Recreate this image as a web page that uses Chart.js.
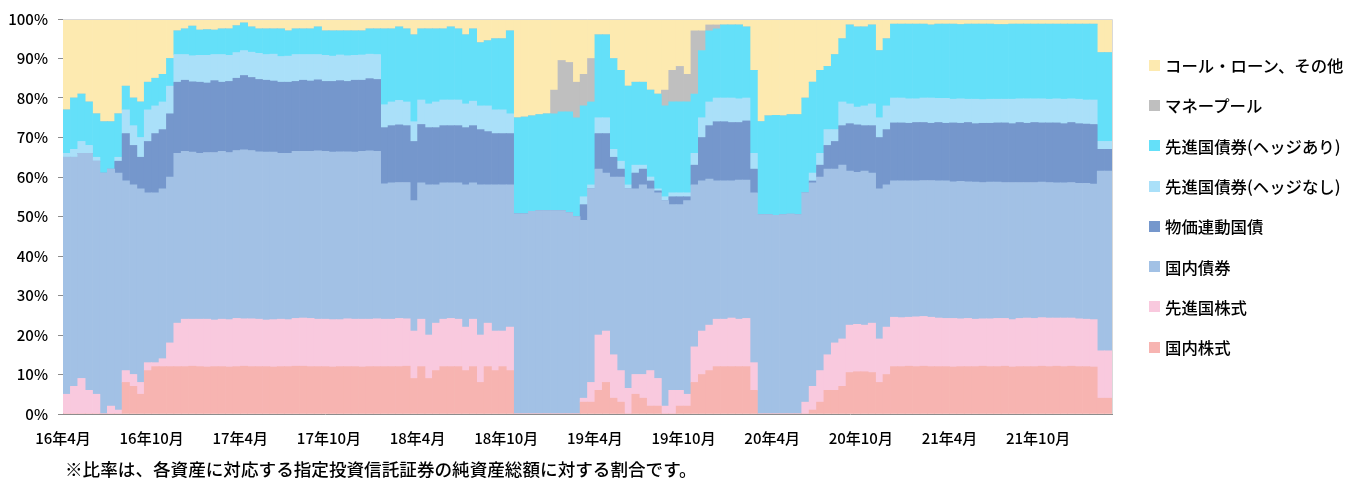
<!DOCTYPE html>
<html lang="ja">
<head>
<meta charset="utf-8">
<title>資産構成比率の推移</title>
<script src="https://cdn.jsdelivr.net/npm/chart.js@4/dist/chart.umd.min.js"></script>
<style>
  html, body { margin: 0; padding: 0; background: #fff; }
  #wrap { position: relative; width: 1365px; height: 481px; overflow: hidden; font-family: "Noto Sans CJK JP", "Noto Sans", sans-serif; }
  #my-chart { position: absolute; left: 0; top: 0; }
  #legend { position: absolute; left: 1149px; top: 45px; margin: 0; padding: 0; list-style: none; }
  #legend li { display: flex; align-items: center; height: 40.3px; font-size: 16.4px; font-weight: 500; color: #000; white-space: nowrap; }
  #legend span.box { display: inline-block; width: 11px; height: 11px; margin-right: 5px; }
  #note { position: absolute; left: 65px; top: 458px; font-size: 17.6px; font-weight: 500; line-height: 22px; color: #000; white-space: nowrap; }
</style>
</head>
<body>
<div id="wrap">
  <canvas id="my-chart" width="1365" height="481"></canvas>
  <ul id="legend"></ul>
  <div id="note">※比率は、各資産に対応する指定投資信託証券の純資産総額に対する割合です。</div>
</div>
<script>
'use strict';

// ******* GLOBALS *********
// half-month steps from 16年4月 to 22年2月
let tickLabels = ['16年4月', '16年10月', '17年4月', '17年10月', '18年4月', '18年10月',
  '19年4月', '19年10月', '20年4月', '20年10月', '21年4月', '21年10月'];

let categories = [];
for (let i = 0; i < 142; i++) {
  let m = 3 + Math.floor(i / 2);
  let yy = 16 + Math.floor(m / 12);
  categories.push(yy + '年' + (m % 12 + 1) + '月' + (i % 2 === 0 ? '前半' : '後半'));
}

let domesticStock = [
  0, 0, 0, 0, 0, 0, 0, 0, 8, 7, 5, 11, 12, 12, 12, 12,
  12, 12.1, 12, 11.9, 12, 12, 11.9, 12, 12.1, 12, 12, 12, 11.9, 12, 12, 12.1, 12.1, 12, 12, 12, 11.9, 12, 12, 12, 11.9, 12, 12,
  12, 12, 12, 12.1, 9, 12, 9, 11, 12, 12, 12, 11, 12, 8, 12, 11, 12, 11,
  0, 0, 0, 0, 0, 0, 0, 0, 0,
  3, 3, 6, 8, 4, 3, 0, 5, 4, 2, 2, 0, 0, 2, 2, 8, 10, 11, 12, 12, 12, 12, 12, 6,
  0, 0, 0, 0, 0, 0,
  0, 1, 3, 6, 6, 7, 10.5, 10.7, 10.7, 10.5, 8, 10, 12, 12, 12.1, 12,
  12.1, 12, 12, 12, 11.9, 12, 12, 12, 12.1, 12, 12, 12.1, 11.9, 12, 12, 12, 12.1, 12, 12.1, 12, 12.1, 12, 12, 11.9,
  4, 4
];

let foreignStock = [
  5, 7, 9, 6, 5, 0, 2, 1, 3, 3, 3, 2, 1, 2, 6, 11,
  12, 11.9, 12, 12.1, 11.8, 12, 12, 12.2, 12, 12.1, 12, 11.8, 12, 12, 11.9, 12.1, 12.2, 12.2, 12, 12, 12, 11.9, 12.1, 12, 12.1, 12, 12.1,
  12, 12, 12.2, 12, 12, 12, 11, 12, 12, 12.2, 12, 11, 12, 12, 11, 10, 9, 11,
  0, 0, 0, 0, 0, 0, 0, 0, 0,
  1, 5, 14, 13, 11, 8, 6.5, 5, 6, 9, 7, 2, 6, 4, 3, 9, 11, 11.5, 12, 12, 12.3, 12, 12.2, 7,
  0, 0, 0, 0, 0, 0,
  3, 6, 8, 9, 12, 12, 12, 12, 11.8, 12.5, 11, 12, 12.5, 12.4, 12.4, 12.6,
  12.6, 12.5, 12.3, 12.2, 12.3, 12.1, 12.2, 12, 12, 12.1, 12.2, 12.1, 12, 12.2, 12.3, 12.2, 12.3, 12.3, 12.2, 12.3, 12.2, 12.1, 12, 12,
  12, 12
];

let domesticBond = [
  60, 58, 57, 60, 59, 61, 60, 60, 48, 48, 49, 43, 43, 43, 42, 43,
  42.5, 42.3, 42, 42.2, 42.4, 42.5, 42.3, 42.5, 42.8, 42.6, 42.4, 42.5, 42.4, 42, 42.1, 42.3, 42.2, 42.3, 42.6, 42.5, 42.4, 42.5, 42.3, 42.3, 42.5, 42.6, 42.4,
  34.3, 34.5, 34.4, 34.5, 33, 34.5, 38, 35, 34.5, 34.3, 34.5, 36, 34.5, 38, 35, 37, 37, 36,
  50.7, 50.7, 51.3, 51.5, 51.5, 51.5, 51.5, 51, 50,
  45, 49, 42, 40, 45, 49, 50.5, 47, 48, 46, 47, 52, 47, 47, 49, 41, 38, 37, 35, 35, 34.7, 35.2, 35, 43,
  50.5, 50.5, 50.3, 50.5, 50.6, 50.5,
  53, 51.5, 49, 47, 44, 44, 39, 38.5, 39, 38, 38, 36, 34.5, 34.6, 34.5, 34.4,
  34.4, 34.6, 34.7, 34.8, 34.6, 34.8, 34.6, 34.7, 34.5, 34.6, 34.5, 34.4, 34.7, 34.4, 34.3, 34.4, 34.3, 34.3, 34.2, 34.2, 34.3, 34.3, 34.4, 34.3,
  45.5, 45.5
];

let inflationBond = [
  0, 0, 0, 0, 0, 0, 0, 3, 12, 10, 8, 13, 15, 15, 16, 18,
  18, 17.8, 18, 17.6, 18.2, 17.5, 18, 18.3, 18.8, 18.5, 18.3, 18.2, 18, 18, 18, 17.7, 18, 17.8, 18, 17.7, 17.9, 18, 17.8, 18.2, 18, 18.3, 18.2,
  14.2, 14.5, 14.6, 14.4, 15, 14.8, 14.5, 14.5, 14.5, 14.5, 14.5, 14.5, 14.5, 14, 13.5, 13, 13, 13,
  0, 0, 0, 0, 0, 0, 0, 0, 0,
  4, 0, 9, 10, 5, 2, 0, 4, 4, 2, 0.5, 0, 2, 2, 1, 5, 11, 13.5, 15, 15, 14.8, 14.6, 15, 6,
  0, 0, 0, 0, 0, 0,
  0, 0.5, 3, 6, 7, 10, 12, 12, 11.5, 12, 13, 14, 14.7, 14.7, 14.6, 14.8,
  14.7, 14.5, 14.8, 14.6, 14.9, 14.7, 15, 14.8, 15, 14.9, 15, 15.1, 14.9, 15.2, 15, 15.2, 15, 15.1, 15.2, 15, 15.2, 15.1, 15, 15.1,
  5.5, 5.5
];

let foreignBondOpen = [
  1, 2, 3, 2, 1, 0, 0, 1, 6, 5, 5, 8, 7, 7, 7, 7,
  6.5, 6.6, 6.8, 7, 6.6, 7, 6.6, 6.5, 6.3, 6.4, 6.6, 6.5, 6.8, 6.5, 6.6, 6.8, 6.5, 6.7, 6.4, 6.6, 6.4, 6.5, 6.5, 6.3, 6.4, 6.2, 6.3,
  5.8, 6, 6.2, 6, 5, 6.2, 6, 6.5, 6.5, 6.5, 6.5, 6, 6.2, 6, 6.5, 6, 6, 5,
  0, 0, 0, 0, 0, 0, 0, 0, 0,
  2, 1, 4, 4, 2, 2, 1, 2, 1, 1, 0.5, 1, 1, 1, 1, 3, 5, 6, 6, 6, 6.2, 6, 5.8, 4,
  0, 0, 0, 0, 0, 0,
  0, 2, 3, 4, 3, 6, 5, 4.5, 5, 5.5, 5, 6, 6.3, 6.3, 6.2, 6,
  6.2, 6.4, 6.1, 6.3, 6, 6.2, 5.9, 6.2, 6, 6.1, 6, 6, 6.2, 6, 6.2, 6, 6.1, 6, 6.1, 6.2, 6, 6.2, 6.1, 6.2,
  2, 2
];

let foreignBondHedged = [
  11, 13, 12, 11, 11, 13, 12, 11, 6, 7, 9, 7, 7, 7, 7, 6,
  6.5, 7.5, 6.4, 6.5, 6.2, 6.5, 6.7, 6.8, 7, 6.4, 6.2, 6.5, 6.4, 7, 6.4, 6.5, 6.5, 6.5, 7, 6.2, 6.4, 6.1, 6.3, 6.2, 6.1, 6.4, 6.5,
  19.2, 18.5, 18.6, 18.5, 22, 18, 19, 18.5, 18, 18.5, 18, 17.5, 18.3, 16, 16.5, 18, 18, 21,
  24.3, 24.5, 24.2, 24.3, 24.5, 24.5, 25, 25.5, 25,
  23, 21, 21, 21, 23, 23, 25, 21, 21, 22, 24, 23, 23, 23, 23, 15, 17, 18, 17.5, 18.5, 18.5, 18.7, 18, 21,
  23.5, 25, 25.3, 25, 25.2, 25.3,
  24, 23, 21, 16, 19, 16, 20, 20.3, 20, 20, 17, 17, 18.7, 18.7, 18.9, 18.9,
  18.7, 18.5, 18.8, 18.8, 19, 18.8, 19, 19, 19.1, 19, 18.9, 18.9, 19, 18.9, 18.9, 18.9, 18.9, 19, 18.9, 19, 18.9, 19, 19.2, 19.2,
  22.5, 22.5
];

let moneyPool = [
  0, 0, 0, 0, 0, 0, 0, 0, 0, 0, 0, 0, 0, 0, 0, 0,
  0, 0, 0, 0, 0, 0, 0, 0, 0, 0, 0, 0, 0, 0, 0, 0, 0, 0, 0, 0, 0, 0, 0, 0, 0, 0, 0,
  0, 0, 0, 0, 0, 0, 0, 0, 0, 0, 0, 0, 0, 0, 0, 0, 0, 0,
  0, 0, 0, 0, 0, 6, 13, 12.5, 9,
  8, 11, 0, 0, 0, 0, 0, 0, 0, 0, 0, 4, 8, 9, 7, 16, 5, 1.5, 1, 0, 0, 0, 0, 0,
  0, 0, 0, 0, 0, 0,
  0, 0, 0, 0, 0, 0, 0, 0, 0, 0, 0, 0, 0, 0, 0, 0,
  0, 0, 0, 0, 0, 0, 0, 0, 0, 0, 0, 0, 0, 0, 0, 0, 0, 0, 0, 0, 0, 0, 0, 0,
  0, 0
];

let callLoan = [
  23, 20, 19, 21, 24, 26, 26, 24, 17, 20, 21, 16, 15, 14, 10, 3,
  2.5, 1.8, 2.8, 2.7, 2.8, 2.5, 2.5, 1.7, 1, 2, 2.5, 2.5, 2.5, 2.5, 3, 2.5, 2.5, 2.5, 2, 3, 3, 3, 3, 3, 3, 2.5, 2.5,
  2.5, 2.5, 2, 2.5, 4, 2.5, 2.5, 2.5, 2.5, 2, 2.5, 4, 2.5, 6, 5.5, 5, 5, 3,
  25, 24.8, 24.5, 24.2, 24, 18, 10.5, 11, 16,
  14, 10, 4, 4, 10, 13, 17, 16, 16, 18, 19, 18, 13, 12, 14, 3, 3, 1.5, 1.5, 1.5, 1.5, 1.5, 2, 13,
  26, 24.5, 24.4, 24.5, 24.2, 24.2,
  20, 16, 13, 12, 9, 5, 1.5, 2, 2, 1.5, 8, 5, 1.3, 1.3, 1.3, 1.3,
  1.3, 1.5, 1.3, 1.3, 1.3, 1.4, 1.3, 1.3, 1.3, 1.3, 1.4, 1.4, 1.3, 1.3, 1.3, 1.3, 1.3, 1.3, 1.3, 1.3, 1.3, 1.3, 1.3, 1.3,
  8.5, 8.5
];

// ***** CANVAS ELEMENT FOR CHART *****
let ctx = document.getElementById('my-chart');
let legendList = document.getElementById('legend');

// ****** HELPER FUNCTIONS / UTILITIES ******

function makeSet(label, data, color) {
  return {
    label: label,
    data: data,
    backgroundColor: color,
    borderWidth: 0,
    barPercentage: 1,
    categoryPercentage: 1
  };
}

// light grey frame on top and right of the plot, like the original
let plotFrame = {
  id: 'plotFrame',
  afterDraw(chart) {
    let a = chart.chartArea;
    let c = chart.ctx;
    c.save();
    c.strokeStyle = '#d9d9d9';
    c.lineWidth = 1;
    c.beginPath();
    c.moveTo(a.left, a.top + 0.5);
    c.lineTo(a.right + 0.5, a.top + 0.5);
    c.lineTo(a.right + 0.5, a.bottom);
    c.stroke();
    c.restore();
  }
};

function renderLegend(chart) {
  let sets = chart.data.datasets.slice().reverse();
  for (let i = 0; i < sets.length; i++) {
    let li = document.createElement('li');
    let box = document.createElement('span');
    box.className = 'box';
    box.style.background = sets[i].backgroundColor;
    li.appendChild(box);
    li.appendChild(document.createTextNode(sets[i].label));
    legendList.appendChild(li);
  }
}

// *** RENDER CHART ***

function renderChart() {
  let tickFont = { family: '"Noto Sans CJK JP", "Noto Sans", sans-serif', size: 15, weight: 500 };

  let chartObj = {
    type: 'bar',
    data: {
      labels: categories,
      datasets: [
        makeSet('国内株式', domesticStock, '#f7b4b1'),
        makeSet('先進国株式', foreignStock, '#f9c9de'),
        makeSet('国内債券', domesticBond, '#a2c1e5'),
        makeSet('物価連動国債', inflationBond, '#7597cc'),
        makeSet('先進国債券(ヘッジなし)', foreignBondOpen, '#aae0f9'),
        makeSet('先進国債券(ヘッジあり)', foreignBondHedged, '#64e0f9'),
        makeSet('マネープール', moneyPool, '#bfbfbf'),
        makeSet('コール・ローン、その他', callLoan, '#fdeab0')
      ]
    },
    options: {
      responsive: false,
      animation: false,
      devicePixelRatio: 1,
      layout: { padding: { top: 15, right: 253, bottom: 0, left: 0 } },
      plugins: {
        legend: { display: false },
        tooltip: { enabled: false }
      },
      scales: {
        x: {
          stacked: true,
          afterFit(scale) { scale.height = 67; },
          border: { color: '#8c8c8c', width: 1 },
          grid: { display: false, drawTicks: false },
          ticks: {
            autoSkip: false,
            maxRotation: 0,
            minRotation: 0,
            padding: 15,
            labelOffset: -3.7,
            color: '#000',
            font: tickFont,
            callback: function (value, index) {
              return index % 12 === 0 ? tickLabels[index / 12] : '';
            }
          }
        },
        y: {
          stacked: true,
          min: 0,
          max: 100,
          afterFit(scale) { scale.width = 63; },
          border: { color: '#8c8c8c', width: 1 },
          grid: { drawOnChartArea: false, tickLength: 5, color: '#8c8c8c' },
          ticks: {
            stepSize: 10,
            padding: 10,
            color: '#000',
            font: tickFont,
            callback: function (value) { return value + '%'; }
          }
        }
      }
    },
    plugins: [plotFrame]
  };

  let chart = new Chart(ctx, chartObj); //eslint-disable-line
  renderLegend(chart);
}

// ***** EXECTUABLE CODE ******
renderChart();
</script>
</body>
</html>
